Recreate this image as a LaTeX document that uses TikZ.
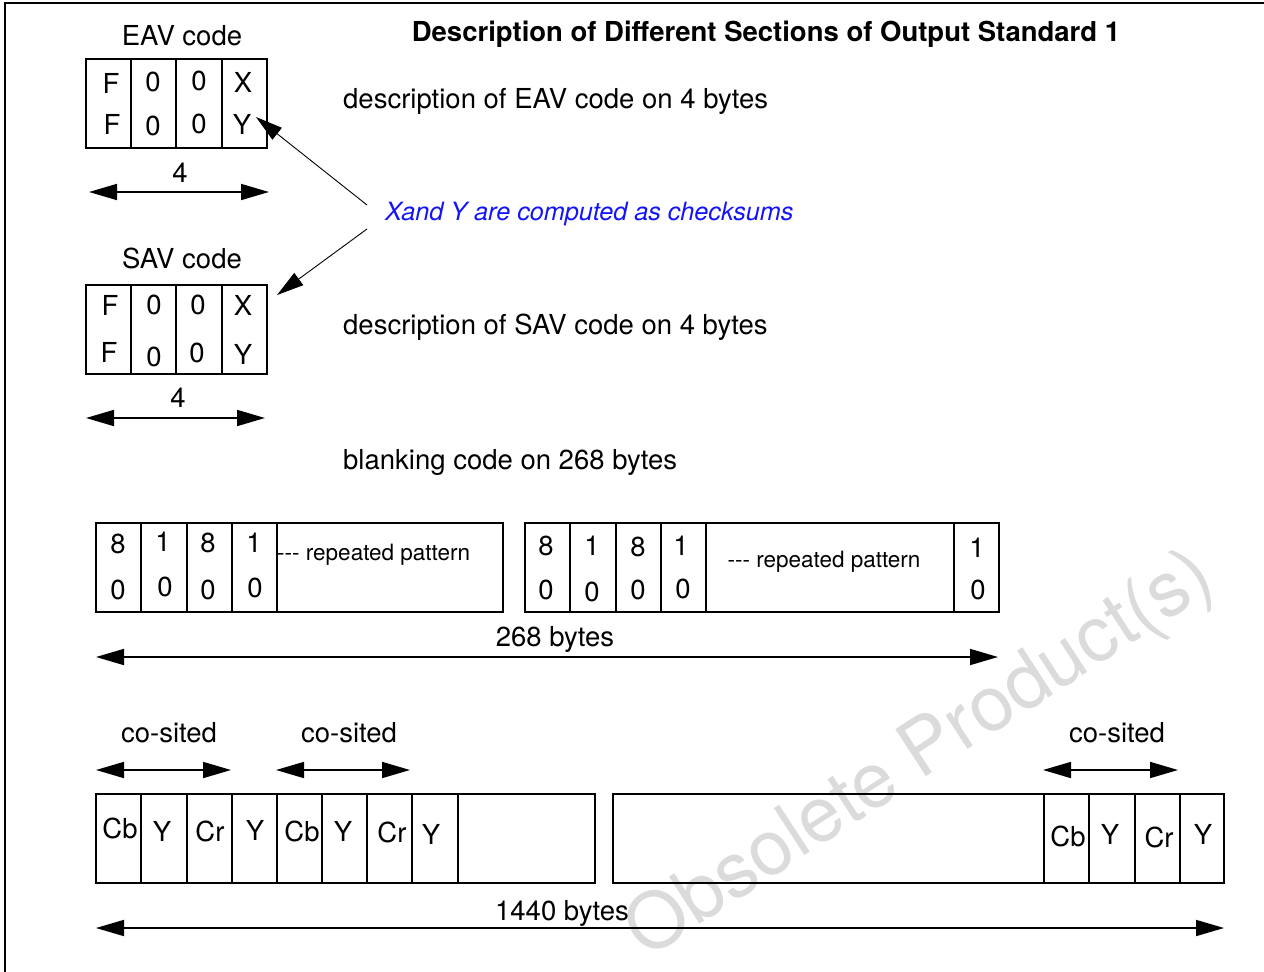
\documentclass[tikz,border=0pt]{standalone}
\usepackage{fontspec}
\setmainfont{TeX Gyre Heros}
\usetikzlibrary{arrows.meta}
\definecolor{wm}{gray}{0.86}
\definecolor{chkblue}{RGB}{20,20,250}
\begin{document}
\begin{tikzpicture}[x=1pt,y=-1pt,
  cell/.style={draw, line width=1.7pt, inner sep=0pt, minimum height=89pt, anchor=north west},
  txt/.style={inner sep=0pt, font=\fontsize{27.5}{32}\selectfont},
  small/.style={inner sep=0pt, font=\fontsize{22.5}{26}\selectfont},
  dim/.style={line width=1.7pt, {Triangle[length=28pt,width=16pt]}-{Triangle[length=28pt,width=16pt]}},
  ptr/.style={line width=0.9pt, -{Triangle[length=27pt,width=15pt]}},
]
\useasboundingbox (0,0) rectangle (1264,972);
% watermark
\node[text=wm, rotate=33, inner sep=0pt, font=\fontsize{77}{84}\selectfont] (wmk) at (921,756) {Obsolete Product(s)};
% frame
\draw[line width=2.6pt] (1264,3) -- (5,3) -- (5,972);
% title
\node[txt, font=\fontsize{27.5}{32}\selectfont\bfseries] (title) at (766,34) {Description of Different Sections of Output Standard 1};
% EAV code
\node[txt] (eavt) at (182,36) {EAV code};
\node[cell, minimum width=45] (e1) at (85,58) {};
\node[cell, minimum width=45] (e2) at (130,58) {};
\node[cell, minimum width=46] (e3) at (175,58) {};
\node[cell, minimum width=45] (e4) at (221,58) {};
\node[txt] (e1a) at (111,83) {F};
\node[txt] (e1b) at (112,124) {F};
\node[txt] (e2a) at (153,82) {0};
\node[txt] (e2b) at (153,126) {0};
\node[txt] (e3a) at (199,81) {0};
\node[txt] (e3b) at (199,124) {0};
\node[txt] (e4a) at (243,82) {X};
\node[txt] (e4b) at (242,124) {Y};
\node[txt] (e4n) at (180,173) {4};
\coordinate (ea1) at (89,192);
\coordinate (ea2) at (269,192);
\draw[dim] (ea1) -- (ea2);
% descriptions
\node[txt, anchor=west] (deav) at (343,101) {description of EAV code on 4 bytes};
\node[txt, anchor=west, text=chkblue, font=\fontsize{25.2}{30}\selectfont\itshape] (chk) at (385,214) {Xand Y are computed as checksums};
\coordinate (c1) at (367,205);
\coordinate (t1) at (256,117);
\coordinate (c2) at (367,229);
\coordinate (t2) at (277,295);
\draw[ptr] (c1) -- (t1);
\draw[ptr] (c2) -- (t2);
% SAV code
\node[txt] (savt) at (182,258) {SAV code};
\node[cell, minimum width=45] (s1) at (85,284) {};
\node[cell, minimum width=45] (s2) at (130,284) {};
\node[cell, minimum width=46] (s3) at (175,284) {};
\node[cell, minimum width=45] (s4) at (221,284) {};
\node[txt] (s1a) at (110,305) {F};
\node[txt] (s1b) at (109,352) {F};
\node[txt] (s2a) at (154,305) {0};
\node[txt] (s2b) at (154,357) {0};
\node[txt] (s3a) at (198,305) {0};
\node[txt] (s3b) at (197,353) {0};
\node[txt] (s4a) at (243,305) {X};
\node[txt] (s4b) at (243,354) {Y};
\node[txt] (s4n) at (178,398) {4};
\coordinate (sa1) at (86,418);
\coordinate (sa2) at (265,418);
\draw[dim] (sa1) -- (sa2);
\node[txt, anchor=west] (dsav) at (343,327) {description of SAV code on 4 bytes};
\node[txt, anchor=west] (dblk) at (343,462) {blanking code on 268 bytes};
% blanking box 1
\node[cell, minimum width=45] (b1) at (95,522) {};
\node[cell, minimum width=46] (b2) at (140,522) {};
\node[cell, minimum width=45] (b3) at (186,522) {};
\node[cell, minimum width=45] (b4) at (231,522) {};
\node[cell, minimum width=226] (b5) at (276,522) {};
\node[txt] (b1a) at (118,544) {8};
\node[txt] (b1b) at (118,590) {0};
\node[txt] (b2a) at (163,542) {1};
\node[txt] (b2b) at (165,587) {0};
\node[txt] (b3a) at (208,543) {8};
\node[txt] (b3b) at (208,590) {0};
\node[txt] (b4a) at (254,543) {1};
\node[txt] (b4b) at (255,588) {0};
\node[small, anchor=west] (b5t) at (277,555) {{-}{-}{-} repeated pattern};
% blanking box 2
\node[cell, minimum width=45] (c1b) at (524,522) {};
\node[cell, minimum width=46] (c2b) at (569,522) {};
\node[cell, minimum width=45] (c3b) at (615,522) {};
\node[cell, minimum width=45] (c4b) at (660,522) {};
\node[cell, minimum width=248] (c5b) at (705,522) {};
\node[cell, minimum width=45] (c6b) at (953,522) {};
\node[txt] (c1x) at (546,546) {8};
\node[txt] (c1y) at (546,590) {0};
\node[txt] (c2x) at (592,546) {1};
\node[txt] (c2y) at (592,592) {0};
\node[txt] (c3x) at (638,547) {8};
\node[txt] (c3y) at (638,590) {0};
\node[txt] (c4x) at (681,546) {1};
\node[txt] (c4y) at (683,589) {0};
\node[small] (c5t) at (824,562) {{-}{-}{-} repeated pattern};
\node[txt] (c6x) at (977,548) {1};
\node[txt] (c6y) at (978,590) {0};
\node[txt] (n268) at (555,639) {268 bytes};
\coordinate (ba1) at (96,657);
\coordinate (ba2) at (998,657);
\draw[dim] (ba1) -- (ba2);
% co-sited
\node[txt] (cs1) at (169,733) {co-sited};
\coordinate (cs1a) at (96,770);
\coordinate (cs1b) at (231,770);
\draw[dim] (cs1a) -- (cs1b);
\node[txt] (cs2) at (349,733) {co-sited};
\coordinate (cs2a) at (276,770);
\coordinate (cs2b) at (410,770);
\draw[dim] (cs2a) -- (cs2b);
\node[txt] (cs3) at (1117,733) {co-sited};
\coordinate (cs3a) at (1043,770);
\coordinate (cs3b) at (1178,770);
\draw[dim] (cs3a) -- (cs3b);
% video box 1
\node[cell, minimum width=45] (v1) at (95,793) {};
\node[cell, minimum width=46] (v2) at (140,793) {};
\node[cell, minimum width=45] (v3) at (186,793) {};
\node[cell, minimum width=45] (v4) at (231,793) {};
\node[cell, minimum width=45] (v5) at (276,793) {};
\node[cell, minimum width=45] (v6) at (321,793) {};
\node[cell, minimum width=45] (v7) at (366,793) {};
\node[cell, minimum width=46] (v8) at (411,793) {};
\node[cell, minimum width=137] (v9) at (457,793) {};
\node[txt] (v1t) at (120,828) {Cb};
\node[txt] (v2t) at (162,831) {Y};
\node[txt] (v3t) at (210,831) {Cr};
\node[txt] (v4t) at (255,830) {Y};
\node[txt] (v5t) at (302,831) {Cb};
\node[txt] (v6t) at (343,831) {Y};
\node[txt] (v7t) at (392,832) {Cr};
\node[txt] (v8t) at (431,834) {Y};
% video box 2
\node[cell, minimum width=431] (w0) at (612,793) {};
\node[cell, minimum width=45] (w1) at (1043,793) {};
\node[cell, minimum width=46] (w2) at (1088,793) {};
\node[cell, minimum width=45] (w3) at (1134,793) {};
\node[cell, minimum width=44] (w4) at (1179,793) {};
\node[txt] (w1t) at (1068,836) {Cb};
\node[txt] (w2t) at (1110,834) {Y};
\node[txt] (w3t) at (1159,837) {Cr};
\node[txt] (w4t) at (1203,834) {Y};
\node[txt] (n1440) at (562,913) {1440 bytes};
\coordinate (va1) at (96,928);
\coordinate (va2) at (1224,928);
\draw[dim] (va1) -- (va2);
\end{tikzpicture}
\end{document}
